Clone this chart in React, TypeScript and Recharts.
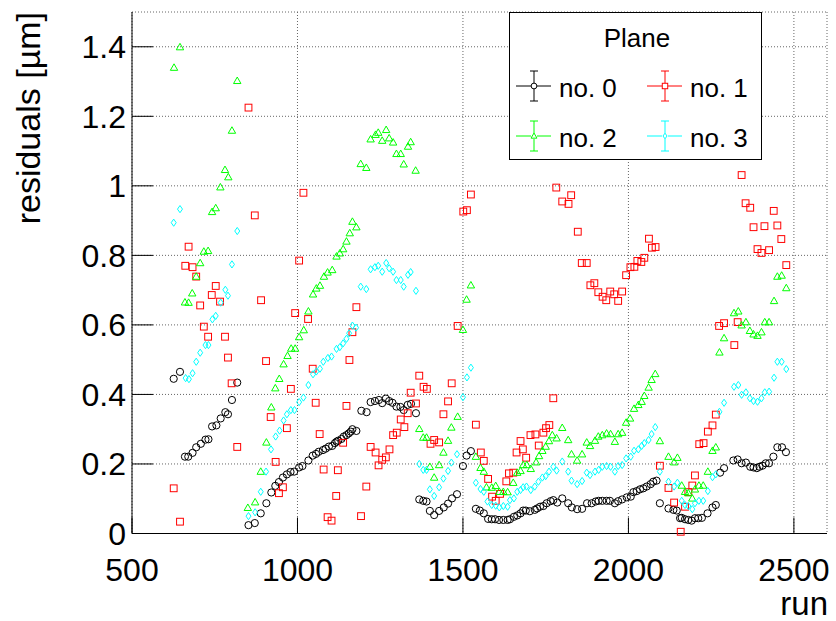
import React from 'react';
import { ScatterChart, Scatter, XAxis, YAxis, CartesianGrid } from 'recharts';

const FONT = '"Liberation Sans", Arial, Helvetica, sans-serif';

const xMajorTicks = [500, 1000, 1500, 2000, 2500];
const xMinorTicks = [
  500, 600, 700, 800, 900, 1000, 1100, 1200, 1300, 1400, 1500, 1600, 1700, 1800, 1900, 2000, 2100,
  2200, 2300, 2400, 2500, 2600,
];
const yMajorTicks = [0, 0.2, 0.4, 0.6, 0.8, 1, 1.2, 1.4];
const yMinorTicks = [
  0, 0.05, 0.1, 0.15, 0.2, 0.25, 0.3, 0.35, 0.4, 0.45, 0.5, 0.55, 0.6, 0.65, 0.7, 0.75, 0.8, 0.85,
  0.9, 0.95, 1, 1.05, 1.1, 1.15, 1.2, 1.25, 1.3, 1.35, 1.4, 1.45, 1.5,
];

// [run, residual] per plane
const plane0: [number, number][] = [
  [626, 0.445], [645, 0.465], [660, 0.221], [670, 0.221], [683, 0.232], [694, 0.248], [708, 0.258],
  [722, 0.27], [731, 0.271], [742, 0.308], [755, 0.311], [768, 0.331], [782, 0.349], [790, 0.343],
  [802, 0.384], [818, 0.434], [852, 0.024], [871, 0.03], [889, 0.058], [906, 0.087], [921, 0.118],
  [933, 0.137], [944, 0.148], [956, 0.161], [968, 0.17], [979, 0.177], [990, 0.178], [1005, 0.19],
  [1015, 0.194], [1033, 0.21], [1046, 0.224], [1056, 0.229], [1064, 0.235], [1077, 0.24], [1085, 0.244],
  [1095, 0.25], [1105, 0.252], [1113, 0.26], [1118, 0.264], [1123, 0.267], [1133, 0.272], [1140, 0.279],
  [1148, 0.283], [1155, 0.288], [1161, 0.293], [1166, 0.3], [1178, 0.295], [1193, 0.353], [1209, 0.349],
  [1221, 0.378], [1234, 0.381], [1246, 0.384], [1256, 0.375], [1267, 0.388], [1277, 0.381], [1287, 0.376],
  [1299, 0.365], [1311, 0.364], [1321, 0.355], [1333, 0.37], [1343, 0.373], [1358, 0.346], [1368, 0.098],
  [1380, 0.094], [1390, 0.092], [1400, 0.065], [1413, 0.053], [1428, 0.065], [1442, 0.075], [1455, 0.086],
  [1467, 0.101], [1482, 0.113], [1500, 0.194], [1511, 0.224], [1524, 0.237], [1539, 0.071], [1551, 0.066],
  [1563, 0.058], [1576, 0.042], [1587, 0.041], [1597, 0.041], [1609, 0.039], [1622, 0.039], [1635, 0.039],
  [1642, 0.041], [1654, 0.048], [1664, 0.052], [1674, 0.058], [1682, 0.066], [1690, 0.066], [1702, 0.064],
  [1717, 0.068], [1724, 0.072], [1733, 0.077], [1743, 0.079], [1753, 0.087], [1765, 0.093], [1773, 0.096],
  [1785, 0.089], [1800, 0.101], [1818, 0.087], [1829, 0.075], [1845, 0.07], [1860, 0.071], [1875, 0.087],
  [1889, 0.087], [1901, 0.092], [1910, 0.094], [1921, 0.094], [1934, 0.094], [1944, 0.094], [1959, 0.087],
  [1969, 0.093], [1981, 0.098], [1995, 0.104], [2007, 0.106], [2015, 0.119], [2025, 0.122], [2035, 0.127],
  [2045, 0.13], [2055, 0.135], [2067, 0.142], [2075, 0.149], [2085, 0.152], [2095, 0.087], [2121, 0.072],
  [2136, 0.068], [2146, 0.066], [2156, 0.044], [2161, 0.045], [2171, 0.041], [2181, 0.039], [2191, 0.037],
  [2201, 0.044], [2211, 0.044], [2222, 0.045], [2239, 0.058], [2254, 0.075], [2264, 0.082], [2277, 0.175],
  [2289, 0.188], [2317, 0.21], [2330, 0.213], [2342, 0.202], [2355, 0.204], [2368, 0.192], [2378, 0.19],
  [2388, 0.188], [2396, 0.192], [2405, 0.195], [2415, 0.202], [2425, 0.202], [2438, 0.221], [2450, 0.248],
  [2464, 0.248], [2476, 0.234],
];

const plane1: [number, number][] = [
  [626, 0.13], [645, 0.034], [661, 0.77], [671, 0.825], [683, 0.766], [694, 0.739], [706, 0.656],
  [717, 0.595], [730, 0.566], [741, 0.686], [753, 0.712], [766, 0.667], [781, 0.566], [790, 0.506],
  [801, 0.432], [818, 0.249], [852, 1.225], [871, 0.915], [890, 0.671], [905, 0.496], [919, 0.335],
  [934, 0.206], [944, 0.116], [956, 0.133], [968, 0.303], [980, 0.416], [993, 0.634], [1005, 0.785],
  [1018, 0.98], [1032, 0.617], [1046, 0.474], [1055, 0.376], [1067, 0.286], [1079, 0.184], [1091, 0.047],
  [1103, 0.037], [1117, 0.108], [1122, 0.182], [1138, 0.261], [1148, 0.367], [1157, 0.499], [1166, 0.579],
  [1178, 0.651], [1192, 0.05], [1208, 0.135], [1221, 0.249], [1236, 0.233], [1245, 0.196], [1256, 0.212],
  [1267, 0.219], [1278, 0.242], [1289, 0.283], [1300, 0.29], [1312, 0.328], [1323, 0.306], [1333, 0.346],
  [1342, 0.405], [1358, 0.374], [1368, 0.454], [1381, 0.422], [1391, 0.416], [1402, 0.258], [1413, 0.269],
  [1428, 0.262], [1441, 0.343], [1455, 0.38], [1466, 0.432], [1484, 0.597], [1501, 0.926], [1512, 0.93],
  [1524, 0.975], [1539, 0.313], [1554, 0.233], [1563, 0.209], [1576, 0.157], [1588, 0.106], [1599, 0.094],
  [1612, 0.114], [1631, 0.15], [1639, 0.173], [1652, 0.175], [1662, 0.233], [1674, 0.266], [1681, 0.242],
  [1691, 0.218], [1704, 0.283], [1719, 0.285], [1729, 0.253], [1743, 0.29], [1751, 0.303], [1761, 0.312],
  [1773, 0.389], [1782, 0.995], [1800, 0.955], [1819, 0.948], [1827, 0.973], [1847, 0.868], [1859, 0.778],
  [1874, 0.778], [1885, 0.714], [1897, 0.72], [1909, 0.694], [1922, 0.681], [1933, 0.671], [1945, 0.696],
  [1957, 0.688], [1969, 0.669], [1981, 0.696], [1993, 0.743], [2006, 0.766], [2018, 0.767], [2027, 0.784],
  [2039, 0.781], [2048, 0.793], [2062, 0.848], [2071, 0.822], [2082, 0.824], [2095, 0.195], [2121, 0.131],
  [2138, 0.089], [2158, 0.005], [2171, 0.077], [2181, 0.119], [2193, 0.138], [2201, 0.167], [2214, 0.257],
  [2227, 0.26], [2240, 0.293], [2254, 0.311], [2264, 0.342], [2274, 0.597], [2289, 0.605], [2320, 0.542],
  [2330, 0.608], [2342, 1.031], [2354, 0.95], [2368, 0.937], [2378, 0.881], [2390, 0.818], [2402, 0.807],
  [2411, 0.884], [2425, 0.815], [2439, 0.928], [2450, 0.886], [2462, 0.847], [2477, 0.772],
];

const plane2: [number, number][] = [
  [627, 1.34], [645, 1.399], [660, 0.665], [671, 0.664], [682, 0.691], [694, 0.739], [706, 0.778],
  [717, 0.811], [730, 0.813], [742, 0.925], [753, 0.936], [767, 0.996], [781, 1.046], [791, 1.025],
  [802, 1.159], [818, 1.302], [850, 0.074], [872, 0.09], [889, 0.178], [906, 0.262], [921, 0.363],
  [933, 0.418], [945, 0.445], [958, 0.487], [970, 0.511], [981, 0.532], [993, 0.532], [1005, 0.565],
  [1019, 0.585], [1033, 0.639], [1047, 0.688], [1057, 0.705], [1068, 0.713], [1080, 0.739], [1091, 0.751],
  [1105, 0.758], [1118, 0.797], [1128, 0.806], [1138, 0.818], [1148, 0.84], [1158, 0.864], [1166, 0.897],
  [1178, 0.881], [1191, 1.063], [1208, 1.052], [1221, 1.134], [1236, 1.147], [1244, 1.153], [1256, 1.13],
  [1268, 1.161], [1277, 1.137], [1289, 1.125], [1299, 1.092], [1312, 1.092], [1321, 1.062], [1334, 1.113],
  [1342, 1.126], [1357, 1.044], [1368, 0.301], [1380, 0.276], [1390, 0.276], [1400, 0.192], [1413, 0.161],
  [1428, 0.197], [1441, 0.233], [1455, 0.267], [1465, 0.305], [1484, 0.336], [1500, 0.586], [1511, 0.673],
  [1524, 0.714], [1539, 0.221], [1553, 0.189], [1563, 0.178], [1571, 0.133], [1587, 0.132], [1599, 0.137],
  [1610, 0.12], [1622, 0.12], [1635, 0.119], [1652, 0.146], [1664, 0.175], [1674, 0.18], [1682, 0.197],
  [1693, 0.197], [1705, 0.186], [1721, 0.205], [1730, 0.223], [1740, 0.238], [1750, 0.25], [1760, 0.266],
  [1770, 0.283], [1783, 0.274], [1800, 0.304], [1818, 0.269], [1828, 0.228], [1845, 0.21], [1860, 0.228],
  [1874, 0.262], [1884, 0.252], [1899, 0.267], [1909, 0.279], [1921, 0.283], [1934, 0.288], [1946, 0.286],
  [1959, 0.264], [1969, 0.286], [1981, 0.29], [1993, 0.319], [2005, 0.331], [2017, 0.359], [2030, 0.37],
  [2040, 0.379], [2048, 0.396], [2061, 0.42], [2070, 0.442], [2081, 0.459], [2095, 0.266], [2121, 0.221],
  [2138, 0.205], [2148, 0.218], [2161, 0.138], [2171, 0.12], [2181, 0.116], [2193, 0.101], [2201, 0.127],
  [2213, 0.138], [2226, 0.138], [2240, 0.178], [2254, 0.238], [2264, 0.248], [2275, 0.521], [2289, 0.562],
  [2319, 0.634], [2332, 0.639], [2342, 0.599], [2355, 0.608], [2367, 0.583], [2378, 0.573], [2390, 0.569],
  [2402, 0.579], [2412, 0.608], [2425, 0.608], [2440, 0.669], [2450, 0.739], [2463, 0.742], [2477, 0.706],
];

const plane3: [number, number][] = [
  [626, 0.894], [645, 0.933], [662, 0.447], [672, 0.444], [683, 0.461], [694, 0.494], [706, 0.52],
  [722, 0.542], [731, 0.542], [743, 0.616], [753, 0.626], [768, 0.664], [782, 0.701], [790, 0.684],
  [802, 0.774], [818, 0.87], [852, 0.05], [872, 0.061], [889, 0.12], [905, 0.178], [920, 0.242],
  [934, 0.279], [946, 0.296], [958, 0.325], [968, 0.343], [980, 0.355], [991, 0.355], [1005, 0.378],
  [1018, 0.391], [1033, 0.427], [1047, 0.458], [1057, 0.466], [1068, 0.474], [1078, 0.494], [1092, 0.505],
  [1103, 0.509], [1118, 0.531], [1128, 0.536], [1138, 0.547], [1148, 0.56], [1156, 0.576], [1166, 0.598],
  [1177, 0.592], [1191, 0.71], [1208, 0.703], [1221, 0.76], [1234, 0.766], [1244, 0.77], [1256, 0.753],
  [1268, 0.778], [1277, 0.763], [1289, 0.753], [1299, 0.729], [1312, 0.729], [1321, 0.71], [1334, 0.744],
  [1342, 0.752], [1358, 0.698], [1368, 0.2], [1380, 0.183], [1390, 0.183], [1400, 0.127], [1413, 0.108],
  [1428, 0.133], [1441, 0.158], [1455, 0.18], [1465, 0.204], [1482, 0.228], [1500, 0.392], [1512, 0.449],
  [1524, 0.477], [1539, 0.146], [1553, 0.128], [1563, 0.12], [1574, 0.092], [1587, 0.082], [1599, 0.08],
  [1610, 0.075], [1622, 0.079], [1635, 0.077], [1642, 0.096], [1654, 0.101], [1664, 0.12], [1674, 0.125],
  [1682, 0.133], [1692, 0.135], [1705, 0.125], [1717, 0.135], [1728, 0.149], [1740, 0.161], [1750, 0.165],
  [1760, 0.178], [1773, 0.192], [1783, 0.181], [1800, 0.207], [1818, 0.178], [1828, 0.152], [1845, 0.142],
  [1860, 0.151], [1874, 0.175], [1884, 0.168], [1899, 0.178], [1910, 0.183], [1921, 0.192], [1934, 0.194],
  [1946, 0.192], [1959, 0.178], [1969, 0.194], [1981, 0.197], [1993, 0.216], [2007, 0.221], [2017, 0.238],
  [2030, 0.242], [2040, 0.252], [2048, 0.26], [2061, 0.269], [2070, 0.286], [2081, 0.306], [2095, 0.178],
  [2121, 0.149], [2138, 0.135], [2148, 0.146], [2161, 0.094], [2171, 0.082], [2181, 0.079], [2193, 0.07],
  [2201, 0.087], [2213, 0.094], [2226, 0.094], [2240, 0.122], [2254, 0.162], [2264, 0.17], [2275, 0.35],
  [2289, 0.376], [2319, 0.422], [2332, 0.427], [2342, 0.399], [2355, 0.406], [2367, 0.389], [2378, 0.381],
  [2390, 0.379], [2402, 0.389], [2412, 0.406], [2425, 0.408], [2440, 0.448], [2450, 0.494], [2463, 0.494],
  [2477, 0.473],
];

const legendLabels = ['no. 0', 'no. 1', 'no. 2', 'no. 3'];

const toPoints = (rows: [number, number][]) => rows.map(([run, v]) => ({ run, v }));

const COLORS = ['#000000', '#ff0000', '#00ff00', '#00ffff'];

const drawMarker = (kind: number, cx: number, cy: number, s = 1) => {
  const c = COLORS[kind];
  if (kind === 0) return <circle cx={cx} cy={cy} r={3.6 * s} fill="none" stroke={c} strokeWidth={1} />;
  if (kind === 1)
    return <rect x={cx - 3.4 * s} y={cy - 3.4 * s} width={6.8 * s} height={6.8 * s} fill="none" stroke={c} strokeWidth={1} />;
  if (kind === 2) {
    const pts = `${cx},${cy - 3.8 * s} ${cx + 3.7 * s},${cy + 2.7 * s} ${cx - 3.7 * s},${cy + 2.7 * s}`;
    return <polygon points={pts} fill="none" stroke={c} strokeWidth={1} />;
  }
  const pts = `${cx},${cy - 3.6 * s} ${cx + 2.5 * s},${cy} ${cx},${cy + 3.6 * s} ${cx - 2.5 * s},${cy}`;
  return <polygon points={pts} fill="none" stroke={c} strokeWidth={1} />;
};

const shapeFor = (kind: number) => (props: any) => <g>{drawMarker(kind, props.cx, props.cy)}</g>;

const LegendEntry = ({ kind, x, y }: { kind: number; x: number; y: number }) => {
  const c = COLORS[kind];
  return (
    <g>
      <line x1={x - 18} x2={x + 17} y1={y} y2={y} stroke={c} strokeWidth={1} />
      <line x1={x} x2={x} y1={y - 15} y2={y + 15} stroke={c} strokeWidth={1} />
      <line x1={x - 4} x2={x + 4} y1={y - 15} y2={y - 15} stroke={c} strokeWidth={1} />
      <line x1={x - 4} x2={x + 4} y1={y + 15} y2={y + 15} stroke={c} strokeWidth={1} />
      <rect x={x - 3} y={y - 3} width={6} height={6} fill="#fff" stroke="none" />
      {drawMarker(kind, x, y, 0.8)}
      <text x={x + 25} y={y + 11} fontSize={26} fontFamily={FONT} fill="#000">
        {legendLabels[kind]}
      </text>
    </g>
  );
};

const tickAxisProps = {
  type: 'number' as const,
  domain: [500, 2600],
  interval: 0 as const,
  tick: false,
  tickLine: { stroke: '#000' },
};

const App = () => {
  return (
    <div style={{ position: 'absolute', left: 0, top: 0, width: 836, height: 621, background: '#fff' }}>
      <ScatterChart width={836} height={621} margin={{ top: 12, right: 9, bottom: 0, left: 0 }}>
        <CartesianGrid xAxisId="x" yAxisId="y" stroke="#666" strokeDasharray="1 2" />
        <XAxis xAxisId="xMinor" {...tickAxisProps} ticks={xMinorTicks} height={0} tickSize={-8} axisLine={false} />
        <XAxis xAxisId="xTopMajor" orientation="top" {...tickAxisProps} ticks={xMajorTicks} height={0} tickSize={-16} axisLine={{ stroke: '#000' }} />
        <XAxis xAxisId="xTopMinor" orientation="top" {...tickAxisProps} ticks={xMinorTicks} height={0} tickSize={-8} axisLine={false} />
        <XAxis
          xAxisId="x"
          dataKey="run"
          type="number"
          domain={[500, 2600]}
          ticks={xMajorTicks}
          interval={0}
          height={87.5}
          tickSize={-16}
          tickMargin={41}
          axisLine={{ stroke: '#000' }}
          tickLine={{ stroke: '#000' }}
          tick={{ fill: '#000', fontSize: 32, fontFamily: FONT }}
          label={{
            content: () => (
              <text x={828} y={615} textAnchor="end" fontSize={33} fontFamily={FONT} fill="#000">
                run
              </text>
            ),
          }}
        />
        <YAxis yAxisId="yMinor" type="number" domain={[0, 1.5]} ticks={yMinorTicks} interval={0} width={0} tick={false} tickSize={-10} axisLine={false} tickLine={{ stroke: '#000' }} />
        <YAxis yAxisId="yRightMajor" orientation="right" type="number" domain={[0, 1.5]} ticks={yMajorTicks} interval={0} width={0} tick={false} tickSize={-21} axisLine={{ stroke: '#000' }} tickLine={{ stroke: '#000' }} />
        <YAxis yAxisId="yRightMinor" orientation="right" type="number" domain={[0, 1.5]} ticks={yMinorTicks} interval={0} width={0} tick={false} tickSize={-10} axisLine={false} tickLine={{ stroke: '#000' }} />
        <YAxis
          yAxisId="y"
          dataKey="v"
          type="number"
          domain={[0, 1.5]}
          ticks={yMajorTicks}
          interval={0}
          width={132}
          tickSize={-21}
          tickMargin={27}
          axisLine={{ stroke: '#000' }}
          tickLine={{ stroke: '#000' }}
          tick={{ fill: '#000', fontSize: 32, fontFamily: FONT }}
          label={{
            content: () => (
              <text
                x={40}
                y={12}
                transform="rotate(-90, 40, 12)"
                textAnchor="end"
                fontSize={34}
                fontFamily={FONT}
                fill="#000"
              >
                residuals [µm]
              </text>
            ),
          }}
        />
        <Scatter xAxisId="x" yAxisId="y" data={toPoints(plane0)} shape={shapeFor(0)} isAnimationActive={false} />
        <Scatter xAxisId="x" yAxisId="y" data={toPoints(plane1)} shape={shapeFor(1)} isAnimationActive={false} />
        <Scatter xAxisId="x" yAxisId="y" data={toPoints(plane2)} shape={shapeFor(2)} isAnimationActive={false} />
        <Scatter xAxisId="x" yAxisId="y" data={toPoints(plane3)} shape={shapeFor(3)} isAnimationActive={false} />
      </ScatterChart>
      <svg width={836} height={621} style={{ position: 'absolute', left: 0, top: 0, pointerEvents: 'none' }}>
        <rect x={509.5} y={12.5} width={252} height={147} fill="#fff" stroke="#000" strokeWidth={1} />
        <text x={637} y={47} textAnchor="middle" fontSize={26} fontFamily={FONT} fill="#000">
          Plane
        </text>
        <LegendEntry kind={0} x={534} y={86} />
        <LegendEntry kind={1} x={665} y={86} />
        <LegendEntry kind={2} x={534} y={136} />
        <LegendEntry kind={3} x={665} y={136} />
      </svg>
    </div>
  );
};

export default App;
